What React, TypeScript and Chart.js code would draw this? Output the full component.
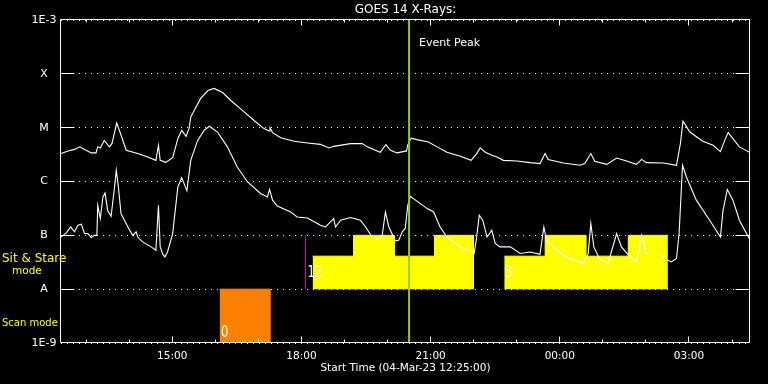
import React, { useEffect, useRef } from 'react';
import { Chart, registerables } from 'chart.js';

Chart.register(...registerables);

// ---- axes (hours since 04-Mar-23 00:00) ----
const X_MIN = 12.4167;
const X_MAX = 28.4167;
const majorHours = [15, 18, 21, 24, 27];
const majorLabels = ['15:00', '18:00', '21:00', '00:00', '03:00'];
const minorHours = [13, 14, 16, 17, 19, 20, 22, 23, 25, 26, 28];
const decadeValues = [1e-9, 1e-8, 1e-7, 1e-6, 1e-5, 1e-4, 1e-3];
const decadeLabels = ['1E-9', 'A', 'B', 'C', 'M', 'X', '1E-3'];

// ---- long channel (upper curve) ----
const upperTimes = [12.42, 12.58, 12.73, 12.85, 12.92, 13.12, 13.23, 13.27, 13.33, 13.42, 13.54, 13.6, 13.71, 13.8, 13.93, 14.2, 14.43, 14.62, 14.68, 14.72, 14.85, 15.01, 15.13, 15.22, 15.32, 15.39, 15.43, 15.51, 15.66, 15.83, 15.97, 16.17, 16.36, 16.63, 16.9, 17.13, 17.25, 17.27, 17.33, 17.52, 17.83, 18.14, 18.44, 18.64, 18.75, 19.14, 19.41, 19.53, 19.83, 19.96, 20.07, 20.22, 20.44, 20.47, 20.55, 20.68, 20.95, 21.15, 21.38, 21.69, 21.94, 22.07, 22.15, 22.27, 22.42, 22.54, 22.69, 23.0, 23.31, 23.54, 23.66, 23.73, 24.08, 24.47, 24.58, 24.72, 24.81, 25.09, 25.32, 25.55, 25.78, 25.9, 26.01, 26.4, 26.71, 26.8, 26.86, 27.02, 27.32, 27.56, 27.73, 27.83, 27.91, 28.02, 28.17, 28.42];
const upperFlux = [3.3e-6, 3.7e-6, 3.95e-6, 4.4e-6, 4.1e-6, 3.4e-6, 3.4e-6, 4.4e-6, 4.2e-6, 5.8e-6, 4.4e-6, 5.05e-6, 1.22e-5, 7.7e-6, 3.8e-6, 3.3e-6, 2.85e-6, 2.47e-6, 4.7e-6, 2.47e-6, 2.27e-6, 2.77e-6, 6.25e-6, 8.9e-6, 6.9e-6, 9.6e-6, 1.57e-5, 2.09e-5, 3.5e-5, 4.9e-5, 5.35e-5, 4.5e-5, 3.2e-5, 2.09e-5, 1.36e-5, 9.6e-6, 8.65e-6, 1.0e-5, 8.1e-6, 6.5e-6, 5.6e-6, 5.2e-6, 4.9e-6, 4.2e-6, 4.5e-6, 5.05e-6, 5.05e-6, 4.4e-6, 3.5e-6, 4.85e-6, 3.8e-6, 3.4e-6, 3.7e-6, 4.85e-6, 6.4e-6, 6.0e-6, 5.4e-6, 4.4e-6, 3.5e-6, 2.95e-6, 2.47e-6, 3.3e-6, 4.2e-6, 3.5e-6, 3.06e-6, 2.85e-6, 2.47e-6, 2.4e-6, 2.24e-6, 2.15e-6, 3.3e-6, 2.55e-6, 2.2e-6, 2.0e-6, 2.15e-6, 3.3e-6, 2.37e-6, 2.08e-6, 2.73e-6, 2.4e-6, 2.08e-6, 2.58e-6, 2.24e-6, 2.2e-6, 2.0e-6, 5.05e-6, 1.32e-5, 8.3e-6, 5.6e-6, 4.7e-6, 3.6e-6, 5.8e-6, 8.1e-6, 6.25e-6, 4.4e-6, 3.44e-6];

// ---- short channel (lower curve) ----
const lowerTimes = [12.42, 12.54, 12.64, 12.73, 12.81, 12.89, 12.96, 13.04, 13.12, 13.19, 13.25, 13.27, 13.33, 13.39, 13.44, 13.5, 13.58, 13.66, 13.7, 13.75, 13.81, 13.97, 14.08, 14.16, 14.2, 14.31, 14.51, 14.62, 14.68, 14.72, 14.78, 14.83, 14.89, 15.01, 15.13, 15.22, 15.34, 15.43, 15.59, 15.74, 15.86, 16.05, 16.28, 16.51, 16.75, 17.05, 17.21, 17.26, 17.33, 17.44, 17.75, 17.9, 18.14, 18.44, 18.56, 18.75, 18.79, 18.91, 19.14, 19.37, 19.49, 19.64, 19.76, 19.87, 19.95, 20.03, 20.18, 20.26, 20.34, 20.41, 20.47, 20.53, 20.65, 20.92, 21.07, 21.22, 21.38, 21.53, 21.76, 21.92, 22.01, 22.06, 22.13, 22.21, 22.31, 22.42, 22.5, 22.61, 22.85, 23.08, 23.31, 23.54, 23.63, 23.69, 23.93, 24.16, 24.54, 24.66, 24.72, 24.79, 24.93, 25.12, 25.32, 25.43, 25.63, 25.78, 25.9, 26.01, 26.32, 26.48, 26.59, 26.71, 26.77, 26.85, 26.94, 27.17, 27.48, 27.73, 27.79, 27.89, 28.02, 28.17, 28.42];
const lowerFlux = [9.3e-8, 1.11e-7, 1.43e-7, 1.16e-7, 1.54e-7, 1.61e-7, 1.08e-7, 1.08e-7, 9.1e-8, 1.0e-7, 1.0e-7, 3.6e-7, 2.05e-7, 5.15e-7, 6.1e-7, 2.9e-7, 2.26e-7, 7.9e-7, 1.61e-6, 7.9e-7, 2.54e-7, 1.43e-7, 1.0e-7, 1.16e-7, 9.3e-8, 7.55e-8, 6.1e-8, 5.3e-8, 3.6e-7, 6.1e-8, 4.46e-8, 3.97e-8, 4.9e-8, 1.08e-7, 7.9e-7, 1.18e-6, 6.7e-7, 2.47e-6, 5.8e-6, 8.9e-6, 1.06e-5, 8.3e-6, 4.4e-6, 1.86e-6, 9.8e-7, 6.0e-7, 5.15e-7, 7.1e-7, 4.5e-7, 3.5e-7, 2.72e-7, 2.19e-7, 2.1e-7, 1.54e-7, 1.43e-7, 2.05e-7, 1.43e-7, 1.91e-7, 2.14e-7, 1.91e-7, 1.43e-7, 9.3e-8, 8.4e-8, 9.3e-8, 2.72e-7, 1.43e-7, 7.9e-8, 8.1e-8, 1.16e-7, 1.34e-7, 3.6e-7, 5.3e-7, 4.5e-7, 3.14e-7, 2.72e-7, 1.43e-7, 9.3e-8, 7.55e-8, 5.7e-8, 5.3e-8, 4.6e-8, 8.1e-8, 2.36e-7, 1.91e-7, 9.3e-8, 1.24e-7, 7.05e-8, 6.1e-8, 6.1e-8, 4.6e-8, 4.9e-8, 4.46e-8, 1.43e-7, 8.1e-8, 5.3e-8, 3.97e-8, 3.0e-8, 4.6e-8, 1.66e-7, 6.1e-8, 3.56e-8, 3.0e-8, 1.08e-7, 6.1e-8, 3.97e-8, 3.21e-8, 1.0e-7, 4.6e-8, 4.6e-8, 3.56e-8, 3.21e-8, 3.72e-8, 1.08e-7, 2.0e-6, 1.21e-6, 4.5e-7, 1.91e-7, 9.3e-8, 2.92e-7, 7.1e-7, 4.5e-7, 1.91e-7, 8.1e-8];

// ---- observing modes ----
const sitStareTimes = [18.26, 19.21, 20.16, 21.09, 22.01, 22.36, 22.71, 23.66, 24.61, 25.59, 26.51];
const sitStareLevels = [4.1e-8, 1e-7, 4.1e-8, 1e-7, 1e-7, null, 4.1e-8, 1e-7, 4.1e-8, 1e-7, 1e-7];
const scanTimes = [16.1, 17.29];
const scanLevels = [1e-8, 1e-8];
const markerTimes = [18.094, 18.094];
const markerLevels = [1e-8, 1e-7];
const eventPeakTime = 20.5;
const modeLabelTexts = ['0', '12', '3'];
const modeLabelTimes = [16.13, 18.14, 22.73];
const modeLabelLevels = [1.56e-9, 2.0e-8, 2.0e-8];

const FONT = '"DejaVu Sans", sans-serif';

const alignPx = (p: number) => Math.round(p - 0.5) + 0.5;

const decorPlugin = {
  id: 'decor',
  afterDatasetsDraw(chart: any) {
    const { ctx, chartArea: a, scales } = chart;
    const x = scales.x;
    const y = scales.y;
    ctx.save();
    ctx.strokeStyle = '#ffffff';
    ctx.lineWidth = 1;
    // frame
    const L = Math.round(a.left) - 0.5;
    const R = Math.round(a.right) - 0.5;
    const T = Math.round(a.top) - 0.5;
    const B = Math.round(a.bottom) - 0.5;
    ctx.beginPath();
    ctx.moveTo(L, T); ctx.lineTo(R, T); ctx.lineTo(R, B); ctx.lineTo(L, B); ctx.closePath();
    ctx.stroke();
    // x ticks (inward, top and bottom)
    const drawXTick = (h: number, len: number) => {
      const px = alignPx(x.getPixelForValue(h));
      ctx.beginPath();
      ctx.moveTo(px, B); ctx.lineTo(px, B - len);
      ctx.moveTo(px, T); ctx.lineTo(px, T + len);
      ctx.stroke();
    };
    majorHours.forEach((h) => drawXTick(h, 6));
    minorHours.forEach((h) => drawXTick(h, 3));
    // y ticks (solid short segments both sides)
    decadeValues.slice(1, -1).forEach((v) => {
      const py = alignPx(y.getPixelForValue(v));
      ctx.beginPath();
      ctx.moveTo(L, py); ctx.lineTo(L + 14, py);
      ctx.moveTo(R, py); ctx.lineTo(R - 14, py);
      ctx.stroke();
    });
    // Event Peak text
    ctx.fillStyle = '#ffffff';
    ctx.textBaseline = 'middle';
    ctx.textAlign = 'left';
    ctx.font = `11px ${FONT}`;
    ctx.fillText('Event Peak', x.getPixelForValue(eventPeakTime) + 10, a.top + 23);
    // mode count labels
    ctx.font = `16px ${FONT}`;
    modeLabelTexts.forEach((t, i) => {
      const px = x.getPixelForValue(modeLabelTimes[i]);
      const py = y.getPixelForValue(modeLabelLevels[i]);
      ctx.save();
      ctx.translate(px, py);
      ctx.scale(0.72, 1);
      ctx.fillText(t, 0, 0);
      ctx.restore();
    });
    ctx.restore();
  },
  afterDraw(chart: any) {
    const { ctx } = chart;
    ctx.save();
    ctx.fillStyle = '#ffff00';
    ctx.textBaseline = 'middle';
    ctx.textAlign = 'left';
    ctx.font = `12px ${FONT}`;
    ctx.fillText('Sit & Stare', 2, 258.5);
    ctx.font = `10.5px ${FONT}`;
    ctx.fillText('mode', 12, 271.5);
    ctx.font = `10px ${FONT}`;
    ctx.fillText('Scan mode', 2, 323.5);
    ctx.restore();
  },
};

export default function App() {
  const ref = useRef<HTMLCanvasElement>(null);
  useEffect(() => {
    if (!ref.current) return;
    Chart.defaults.font.family = FONT;
    const toPts = (ts: number[], vs: (number | null)[]) => ts.map((t, i) => ({ x: t, y: vs[i] }));
    const chart = new Chart(ref.current, {
      type: 'line',
      data: {
        datasets: [
          {
            data: toPts([eventPeakTime, eventPeakTime], [1e-9, 1e-3]),
            borderColor: '#99cc00', borderWidth: 2, pointRadius: 0, fill: false, order: 0,
          },
          {
            data: toPts(upperTimes, upperFlux),
            borderColor: '#ffffff', borderWidth: 1.1, pointRadius: 0, tension: 0, fill: false, order: 1,
          },
          {
            data: toPts(lowerTimes, lowerFlux),
            borderColor: '#ffffff', borderWidth: 1.1, pointRadius: 0, tension: 0, fill: false, order: 1,
          },
          {
            data: toPts(markerTimes, markerLevels),
            borderColor: '#cc00cc', borderWidth: 1, pointRadius: 0, fill: false, order: 2,
          },
          {
            data: toPts(sitStareTimes, sitStareLevels),
            stepped: 'before', borderColor: '#ffff00', backgroundColor: '#ffff00', borderWidth: 1,
            pointRadius: 0, spanGaps: false, fill: { value: 1e-8 }, order: 3,
          },
          {
            data: toPts(scanTimes, scanLevels),
            stepped: 'before', borderColor: '#ff8000', backgroundColor: '#ff8000', borderWidth: 1,
            pointRadius: 0, fill: { value: 1e-9 }, order: 3,
          },
        ] as any,
      },
      options: {
        animation: false,
        responsive: false,
        devicePixelRatio: 1,
        layout: { padding: { right: 18 } },
        plugins: {
          legend: { display: false },
          tooltip: { enabled: false },
          title: {
            display: true, text: 'GOES 14 X-Rays:', color: '#ffffff', fullSize: false,
            font: { size: 12, weight: 'normal', family: FONT, lineHeight: 1.2 },
            padding: { top: 3, bottom: 2.6 },
          },
        },
        scales: {
          x: {
            type: 'linear', min: X_MIN, max: X_MAX, position: 'bottom',
            grid: { display: false, drawTicks: false },
            border: { display: false },
            ticks: {
              color: '#ffffff', autoSkip: false, maxRotation: 0, padding: 6.5,
              font: { size: 10.5, family: FONT },
              callback: (_v: any, i: number) => majorLabels[i] ?? '',
            },
            afterBuildTicks: (s: any) => { s.ticks = majorHours.map((v) => ({ value: v })); },
            afterFit: (s: any) => { s.height = 41; },
            title: {
              display: true, text: 'Start Time (04-Mar-23 12:25:00)', color: '#ffffff',
              font: { size: 10.5, family: FONT }, padding: { top: 0, bottom: 9.5 },
            },
          },
          y: {
            type: 'logarithmic', min: 1e-9, max: 1e-3, position: 'left',
            grid: { color: '#ffffff', lineWidth: 1, drawTicks: false },
            border: { display: false, dash: [1, 5] },
            ticks: {
              color: '#ffffff', padding: 4.5, crossAlign: 'center', autoSkip: false,
              font: { size: 11, family: FONT },
              callback: (_v: any, i: number) => decadeLabels[i] ?? '',
            },
            afterBuildTicks: (s: any) => { s.ticks = decadeValues.map((v) => ({ value: v })); },
            afterFit: (s: any) => { s.width = 61; },
          },
        },
      } as any,
      plugins: [decorPlugin],
    });
    return () => chart.destroy();
  }, []);
  return (
    <div style={{ position: 'fixed', left: 0, top: 0, width: 768, height: 384, background: '#000' }}>
      <canvas ref={ref} width={768} height={384} style={{ display: 'block', width: 768, height: 384 }} />
    </div>
  );
}
